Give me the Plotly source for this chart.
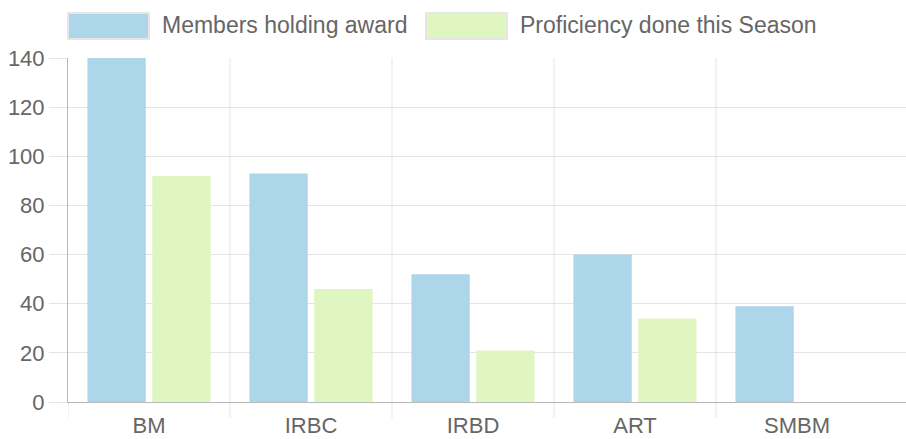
import plotly.graph_objects as go

categories = ["BM", "IRBC", "IRBD", "ART", "SMBM"]
members_holding = [140, 93, 52, 60, 39]
proficiency_season = [92, 46, 21, 34, 0]
series_names = ["Members holding award", "Proficiency done this Season"]
y_ticks = [0, 20, 40, 60, 80, 100, 120, 140]

W, H = 906, 439
ML, MR, MT, MB = 68, 0, 58, 37
PW, PH = W - ML - MR, H - MT - MB

BLUE = "#ADD6EA"
GREEN = "#DFF6C0"
TXT = "#666666"
GRID = "rgba(0,0,0,0.1)"
AXIS = "rgba(0,0,0,0.28)"
FONT = "Liberation Sans, Arial, sans-serif"

def px_x(px):
    return (px - ML) / PW

def px_y(py):
    return (H - MB - py) / PH

fig = go.Figure()
fig.add_trace(go.Bar(x=categories, y=members_holding, name=series_names[0],
                     marker=dict(color=BLUE, line=dict(width=0))))
fig.add_trace(go.Bar(x=categories, y=proficiency_season, name=series_names[1],
                     marker=dict(color=GREEN, line=dict(width=0))))

cat_w = 162.0
span = PW / cat_w
xr = [-0.5, -0.5 + span]

shapes = []
# vertical category gridlines (extending below the axis like tick marks)
for i in range(1, len(categories)):
    shapes.append(dict(type="line", xref="x", yref="paper", layer="below",
                       x0=i - 0.5, x1=i - 0.5, y0=px_y(418), y1=1,
                       line=dict(color=GRID, width=1)))
# tick extension below the y-axis line
shapes.append(dict(type="line", xref="x", yref="paper", layer="below",
                   x0=-0.5, x1=-0.5, y0=px_y(418), y1=0,
                   line=dict(color=GRID, width=1)))

annotations = []
legend_boxes = [(68, 149, BLUE, 160), (426, 507, GREEN, 518)]
for (x0, x1, col, tx), name in zip(legend_boxes, series_names):
    shapes.append(dict(type="rect", xref="paper", yref="paper",
                       x0=px_x(x0), x1=px_x(x1), y0=px_y(39), y1=px_y(13),
                       fillcolor=col, line=dict(color="#e6e6e6", width=2)))
    annotations.append(dict(xref="paper", yref="paper", x=px_x(tx), y=px_y(25),
                            xanchor="left", yanchor="middle", showarrow=False,
                            text=name, font=dict(family=FONT, size=23, color=TXT)))

fig.update_layout(
    width=W, height=H,
    margin=dict(l=ML, r=MR, t=MT, b=MB, autoexpand=False),
    paper_bgcolor="white", plot_bgcolor="white",
    barmode="group", bargap=0.2, bargroupgap=0.1,
    showlegend=False,
    font=dict(family=FONT, size=22, color=TXT),
    xaxis=dict(range=xr, showgrid=False, showline=True, linecolor=AXIS, linewidth=1,
               ticks="outside", ticklen=4, tickcolor="rgba(0,0,0,0)",
               tickfont=dict(family=FONT, size=22, color=TXT), zeroline=False,
               automargin=False),
    yaxis=dict(range=[0, 140], tickmode="array", tickvals=y_ticks,
               showgrid=True, gridcolor=GRID, gridwidth=1,
               ticks="outside", ticklen=18, tickcolor=GRID,
               showline=True, linecolor=AXIS, linewidth=1, zeroline=False,
               tickfont=dict(family=FONT, size=22, color=TXT), automargin=False),
    shapes=shapes,
    annotations=annotations,
)

fig.write_html("out.html", config={"displayModeBar": False},
               post_script="document.body.style.margin='0';document.body.style.overflow='hidden';")
